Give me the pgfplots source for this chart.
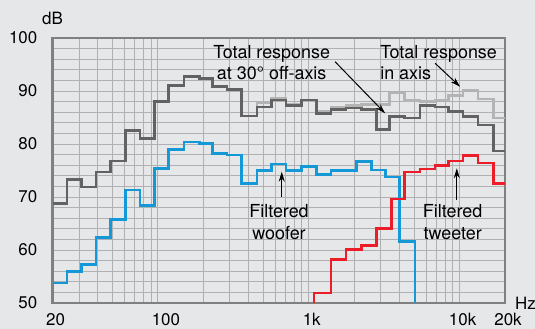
\documentclass[border=0pt]{standalone}
\usepackage{fontspec}
\setmainfont{TeX Gyre Heros}
\usepackage{pgfplots}
\pgfplotsset{compat=1.18}
\usetikzlibrary{arrows.meta}
\definecolor{bg}{RGB}{230,231,233}
\definecolor{gridgray}{RGB}{176,176,178}
\definecolor{framegray}{RGB}{128,128,128}
\definecolor{darkline}{RGB}{98,98,98}
\definecolor{lightline}{RGB}{180,180,180}
\definecolor{wooferblue}{RGB}{20,152,214}
\definecolor{tweeterred}{RGB}{236,28,40}
\begin{document}
\begin{tikzpicture}
\path[use as bounding box, fill=bg] (-52.5bp,-26bp) rectangle (482.5bp,303bp);
\begin{axis}[
  name=ax,
  at={(0,0)}, anchor=south west,
  scale only axis, width=452.5bp, height=265bp,
  xmode=log, xmin=20, xmax=20000, ymin=50, ymax=100,
  xtick={20,100,1000,10000,20000},
  xticklabels={20,\hspace{10bp}100,1k,10k,20k},
  minor xtick={30,40,50,60,70,80,90,200,300,400,500,600,700,800,900,2000,3000,4000,5000,6000,7000,8000,9000},
  ytick={50,60,70,80,90,100},
  minor ytick={52,54,56,58,62,64,66,68,72,74,76,78,82,84,86,88,92,94,96,98},
  grid=both,
  grid style={draw=gridgray, line width=0.9bp},
  minor grid style={draw=gridgray, line width=0.9bp},
  major tick length=0pt, minor tick length=0pt,
  axis line style={draw=framegray, line width=2.6bp},
  /pgf/number format/assume math mode=true,
  tick label style={font=\fontsize{17}{17}\selectfont},
  yticklabel style={anchor=east, inner sep=0pt, xshift=-15bp},
  xticklabel style={anchor=north, inner sep=0pt, yshift=-10bp, xshift=3bp},
  every axis plot/.append style={const plot, line width=2.7bp, line join=miter},
  clip=true,
]
% in-axis total response (light gray)
\addplot[lightline] coordinates {
(20,68.8) (24.96,73.3) (31.2,71.9) (38.9,74.7) (48.3,76.8) (61.0,82.6) (76.1,81.0) (94.9,88.0) (117.5,91.1) (148.9,92.8) (187.9,92.4) (230.2,90.9) (287.2,90.3) (360,85.3) (454,87.8) (569,88.6) (707,87.5) (899,88.3) (1130,86.2) (1406,86.9) (1768,87.2) (2238,87.5) (3424,89.6) (4318,88.2) (5470,88.0) (6858,88.3) (8454,89.2) (10550,90.2) (13226,88.5) (16758,84.9) (20000,84.9)
};
% 30 deg off-axis total response (dark gray)
\addplot[darkline] coordinates {
(20,68.8) (24.96,73.3) (31.2,71.9) (38.9,74.7) (48.3,76.8) (61.0,82.6) (76.1,81.0) (94.9,88.0) (117.5,91.1) (148.9,92.8) (187.9,92.4) (230.2,90.9) (287.2,90.3) (360,85.3) (454,87.0) (569,88.3) (707,87.2) (899,88.3) (1130,85.7) (1406,86.5) (1768,86.8) (2238,86.5) (2824,82.8) (3424,85.2) (4318,84.9) (5470,87.2) (6858,87.0) (8454,86.1) (10550,85.2) (13226,83.6) (16758,78.7) (20000,78.7)
};
% filtered woofer
\addplot[wooferblue] coordinates {
(20,53.8) (24.96,55.9) (31.2,57.3) (38.9,62.4) (48.3,65.8) (61.0,71.3) (76.1,68.4) (94.9,75.4) (117.5,79.0) (148.9,80.4) (187.9,80.1) (230.2,78.2) (287.2,77.9) (360,72.6) (454,75.0) (569,76.2) (707,75.0) (899,75.7) (1130,74.3) (1406,75.0) (2080,76.7) (2616,75.1) (3240,73.8) (3988,61.6) (5070,40)
};
% filtered tweeter
\addplot[tweeterred] coordinates {
(1083,40) (1083,51.9) (1406,58.2) (1768,60.1) (2238,60.9) (2824,64.0) (3551,69.6) (4318,74.7) (5470,75.3) (6858,75.9) (8454,76.8) (10550,77.8) (13226,76.4) (16758,72.6) (20000,72.6)
};
% annotations
\begin{scope}[every node/.style={font=\fontsize{18}{18}\selectfont, inner sep=0pt}]
\node[anchor=base] at (568,96.17) {Total response};
\node[anchor=base] at (568,92.08) {at 30° off-axis};
\node[anchor=base west] at (2970,96.17) {Total response};
\node[anchor=base west] at (2970,92.08) {in axis};
\node[anchor=base] at (635,66.17) {Filtered};
\node[anchor=base] at (635,61.89) {woofer};
\node[anchor=base] at (8988,66.17) {Filtered};
\node[anchor=base] at (8988,61.89) {tweeter};
\end{scope}
\draw[black, line width=1bp, -{Stealth[length=10bp,width=6bp]}] (1494,95.53) -- (3206,85.79);
\draw[black, line width=1bp, -{Stealth[length=10bp,width=6bp]}] (6881,95.23) -- (10076,90.81);
\draw[black, line width=1bp, -{Stealth[length=10bp,width=6bp]}] (662,70.06) -- (662,74.77);
\draw[black, line width=1bp, -{Stealth[length=10bp,width=6bp]}] (9582,69.43) -- (9582,75.42);
\end{axis}
\node[font=\fontsize{17}{17}\selectfont, inner sep=0pt] at (0bp,285bp) {dB};
\node[font=\fontsize{17}{17}\selectfont, inner sep=0pt, anchor=west] at (462.5bp,0bp) {Hz};
\end{tikzpicture}
\end{document}
